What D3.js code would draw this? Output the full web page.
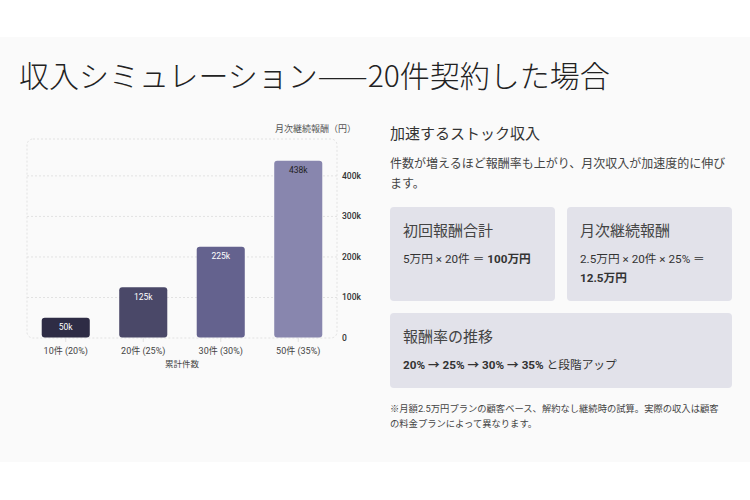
<!DOCTYPE html>
<html><head><meta charset="utf-8">
<script src="https://cdn.jsdelivr.net/npm/d3@7"></script>
<style>
html,body{margin:0;padding:0;background:#fff;}
svg{display:block;font-family:Roboto,"Noto Sans CJK JP","Noto Sans",sans-serif;}
</style></head>
<body><svg id="c" width="750" height="500"></svg>
<script>
// ---- data ----
const categories = ["10件 (20%)", "20件 (25%)", "30件 (30%)", "50件 (35%)"];
const values = [50000, 125000, 225000, 437500];
const valueLabels = ["50k", "125k", "225k", "438k"];
const barColors = ["#2e2c45", "#4a4868", "#64628e", "#8886ae"];
const labelColors = ["#ffffff", "#ffffff", "#ffffff", "#222222"];
const yTicks = [0, 100000, 200000, 300000, 400000];
const yTickLabels = ["0", "100k", "200k", "300k", "400k"];
const title = "収入シミュレーション——20件契約した場合";
const xAxisTitle = "累計件数";
const yAxisTitle = "月次継続報酬（円）";

const svg = d3.select("#c");
// background band
svg.append("rect").attr("x",0).attr("y",37).attr("width",750).attr("height",425).attr("fill","#fafafa");

svg.append("text").attr("x",19).attr("y",87).attr("font-size",30).attr("font-weight",300)
  .attr("font-family","'Noto Sans CJK JP',sans-serif")
  .attr("fill","#222").text(title);

// ---- chart ----
const pl = 27, pr = 337, pt = 139, pb = 338;
const x = d3.scaleBand().domain(categories).range([pl, pr]).paddingInner(0.38).paddingOuter(0.19);
const y = d3.scaleLinear().domain([0, 491000]).range([pb, pt]);

const g = svg.append("g");
// frame
g.append("rect").attr("x",pl).attr("y",pt).attr("width",pr-pl).attr("height",pb-pt)
  .attr("rx",6).attr("fill","none").attr("stroke","#e2e2e2").attr("stroke-dasharray","2,2");
// grid
g.selectAll(".grid").data(yTicks.slice(1)).join("line")
  .attr("x1",pl).attr("x2",pr).attr("y1",d=>y(d)).attr("y2",d=>y(d))
  .attr("stroke","#e2e2e2").attr("stroke-dasharray","2,2");
g.selectAll(".xt").data(categories).join("line")
  .attr("x1",d=>x(d)+x.bandwidth()/2).attr("x2",d=>x(d)+x.bandwidth()/2)
  .attr("y1",pb).attr("y2",pb+4).attr("stroke","#e2e2e2");

// bars
g.selectAll(".bar").data(values).join("rect")
  .attr("x",(d,i)=>x(categories[i])).attr("width",x.bandwidth())
  .attr("y",d=>y(d)).attr("height",d=>y(0)-y(d)-0.5)
  .attr("rx",3).attr("fill",(d,i)=>barColors[i]);
g.selectAll(".vl").data(values).join("text")
  .attr("x",(d,i)=>x(categories[i])+x.bandwidth()/2).attr("y",d=>y(d)+12.5)
  .attr("text-anchor","middle").attr("font-size",8.5).attr("font-weight",400)
  .attr("fill",(d,i)=>labelColors[i]).text((d,i)=>valueLabels[i]);

// x labels
g.selectAll(".xl").data(categories).join("text")
  .attr("x",d=>x(d)+x.bandwidth()/2).attr("y",pb+16).attr("text-anchor","middle")
  .attr("font-size",9).attr("fill","#444").text(d=>d);
g.append("text").attr("x",(pl+pr)/2).attr("y",pb+29).attr("text-anchor","middle")
  .attr("font-size",8.5).attr("fill","#444").text(xAxisTitle);

// y labels right
g.selectAll(".yl").data(yTicks).join("text")
  .attr("x",pr+5).attr("y",d=>y(d)+3).attr("font-size",8.5).attr("font-weight",500).attr("fill","#333")
  .text((d,i)=>yTickLabels[i]);
g.append("text").attr("x",356).attr("y",132).attr("text-anchor","end")
  .attr("font-size",9).attr("fill","#555").text(yAxisTitle);

// ---- right panel ----
const R = svg.append("g");
R.append("text").attr("x",390).attr("y",139).attr("font-size",15).attr("fill","#333").text("加速するストック収入");
R.append("text").attr("x",390).attr("y",168).attr("font-size",12).attr("fill","#444").text("件数が増えるほど報酬率も上がり、月次収入が加速度的に伸び");
R.append("text").attr("x",390).attr("y",188).attr("font-size",12).attr("fill","#444").text("ます。");

const boxes = [
  {x:390,y:207,w:165,h:94,title:"初回報酬合計",lines:[[["5万円 × 20件 ＝ ",400],["100万円",700]]]},
  {x:567,y:207,w:165,h:94,title:"月次継続報酬",lines:[[["2.5万円 × 20件 × 25% ＝",400]],[["12.5万円",700]]]},
  {x:390,y:313,w:342,h:75,title:"報酬率の推移",lines:[[["20% → 25% → 30% → 35%",700],[" と段階アップ",400]]]}
];
boxes.forEach(b=>{
  R.append("rect").attr("x",b.x).attr("y",b.y).attr("width",b.w).attr("height",b.h)
    .attr("rx",4).attr("fill","#e2e2ea");
  R.append("text").attr("x",b.x+13).attr("y",b.y+29).attr("font-size",15).attr("fill","#444").text(b.title);
  b.lines.forEach((ln,li)=>{
    const t = R.append("text").attr("x",b.x+13).attr("y",b.y+56+li*19).attr("font-size",11.7).attr("fill","#333");
    ln.forEach(s=>t.append("tspan").attr("font-weight",s[1]).text(s[0]));
  });
});
R.append("text").attr("x",390).attr("y",412).attr("font-size",9.3).attr("fill","#444")
  .text("※月額2.5万円プランの顧客ベース、解約なし継続時の試算。実際の収入は顧客");
R.append("text").attr("x",390).attr("y",427).attr("font-size",9.3).attr("fill","#444")
  .text("の料金プランによって異なります。");
</script></body></html>
